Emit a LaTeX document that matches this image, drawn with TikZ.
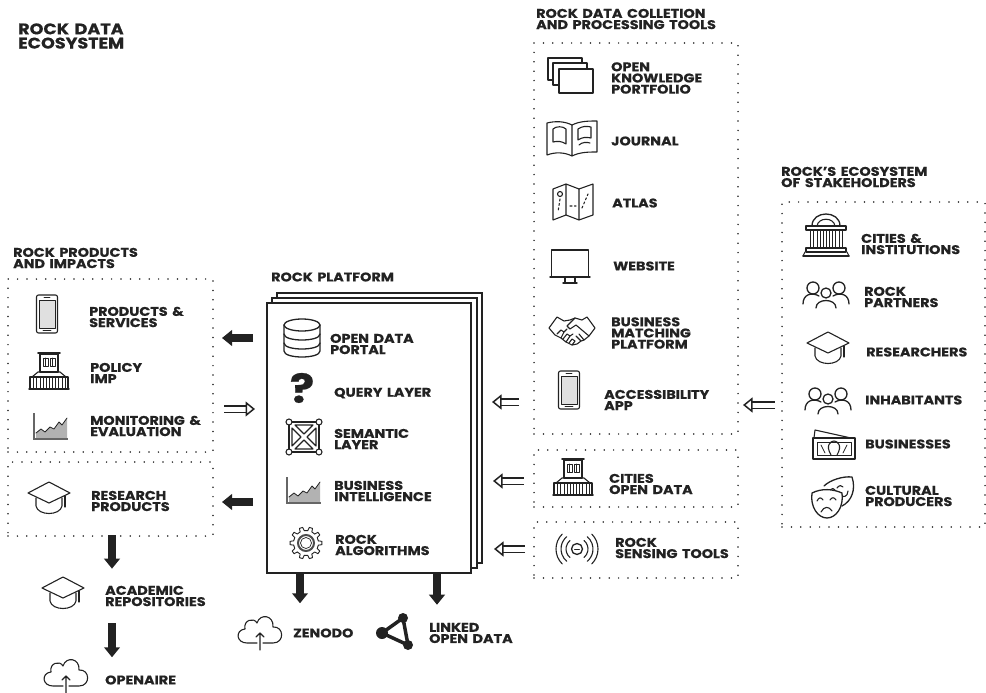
\documentclass[tikz,border=0pt]{standalone}
\usepackage{fontspec}
\setmainfont{Poppins}[FakeStretch=1.14,WordSpace=1.5,BoldFeatures={FakeBold=0.6}]
\usetikzlibrary{arrows.meta,calc}
\definecolor{ink}{HTML}{222222}
\tikzset{
  x=1pt,y=-1pt,
  lab/.style={anchor=west,align=left,inner sep=0pt,text=ink,font=\fontsize{12.6}{11.2}\selectfont\bfseries},
  bigtitle/.style={lab,font=\fontsize{15.4}{14.2}\selectfont\bfseries},
  dotbox/.style={draw=ink,line width=1.7pt,line cap=round,dash pattern=on 0pt off 9.4pt,inner sep=0pt,outer sep=0pt,rectangle},
  sheet/.style={draw=ink,line width=1.9pt,fill=white,inner sep=0pt,outer sep=0pt,rectangle},
  solidarrow/.style={draw=ink,line width=7.5pt,-{Triangle[length=10pt,width=15.5pt,fill=ink]}},
  hollowarrow/.style={draw=ink,line width=1.5pt,double=white,double distance=5pt,-{Triangle[open,length=9.5pt,width=15pt,fill=white]}},
  ic/.style={draw=ink,line width=1.1pt,line join=round,line cap=round},
  phone/.pic={
    \draw[ic,rounded corners=2pt] (-10.5,-19) rectangle (10.5,19);
    \draw[ic,fill=black!12,line width=.8pt] (-8,-14) rectangle (8,14);
    \draw[ic,line width=.8pt] (-3,-16.5)--(3,-16.5) (-4,16.5)--(4,16.5);
  },
  bank/.pic={
    \draw[ic] (-9,-17) rectangle (9,1);
    \draw[ic,line width=1.8pt] (-11,-18)--(11,-18);
    \draw[ic,line width=.8pt] (-6,-13) rectangle (-1,-5) (1,-13) rectangle (6,-5) (-3.5,-13)--(-3.5,-5) (3.5,-13)--(3.5,-5);
    \draw[ic] (-17,6)--(-11,1)--(11,1)--(17,6)--cycle;
    \draw[ic,line width=1.5pt] (-20,18)--(20,18);
    \draw[ic] (-19,6) rectangle (19,18);
    \foreach \q in {-16,-13,-9,-6,-3,0,3,6,9,13,16} \draw[ic,line width=1pt] (\q,6)--(\q,18);
  },
  trend/.pic={
    \fill[black!30] (-15,12)--(-15,7)--(-10,3)--(-6,6)--(-1,1)--(3,3)--(8,-4)--(11,-1)--(16,-8)--(16,12)--cycle;
    \draw[ic,line width=.8pt] (-15,7)--(-10,3)--(-6,6)--(-1,1)--(3,3)--(8,-4)--(11,-1)--(16,-8);
    \draw[draw=black!60,line width=1.1pt] (-17,-13)--(-17,13)--(17,13);
  },
  gradcap/.pic={
    \draw[ic] (0,-16)--(21,-5)--(0,5)--(-21,-5)--cycle;
    \draw[ic] (-13,0)--(-13,8) .. controls (-11,18) and (11,18) .. (13,8)--(13,0);
    \draw[ic] (16,-2)--(16,9);
  },
  cloud/.pic={
    \draw[ic] (-3,13)--(-13,13) .. controls (-24,13) and (-25,0) .. (-15,-1) .. controls (-17,-10) and (-6,-13) .. (-3,-7) .. controls (0,-17) and (14,-15) .. (13,-3) .. controls (24,-4) and (25,13) .. (13,13)--(3,13);
    \draw[ic] (0,20)--(0,3) (-4,7)--(0,3)--(4,7);
  },
  dbase/.pic={
    \draw[ic,line width=1.3pt] (0,-13) ellipse (18 and 6);
    \draw[ic,line width=1.3pt] (-18,-13)--(-18,13) .. controls (-18,21) and (18,21) .. (18,13)--(18,-13);
    \draw[ic,line width=1.3pt] (-18,-4) .. controls (-18,4) and (18,4) .. (18,-4);
    \draw[ic,line width=1.3pt] (-18,5) .. controls (-18,13) and (18,13) .. (18,5);
  },
  semantic/.pic={
    \draw[ic,line width=1.4pt] (-15,-15) rectangle (15,15);
    \draw[ic] (-9,-12)--(9,-12)--(0,-3)--cycle (-9,12)--(9,12)--(0,3)--cycle (-12,-9)--(-12,9)--(-3,0)--cycle (12,-9)--(12,9)--(3,0)--cycle;
    \foreach \a/\b in {-15/-15,15/-15,-15/15,15/15} \draw[ic,fill=white] (\a,\b) circle (3);
  },
  gear/.pic={
    \foreach \a in {0,36,...,324} \draw[ic,line width=.9pt] ({\a-10}:12.5)--({\a-6}:16)--({\a+6}:16)--({\a+10}:12.5)--({\a+26}:12.5);
    \draw[draw=black!70,line width=2pt] (0,0) circle (8);
    \draw[ic,line width=.7pt] (0,0) circle (5.5);
  },
  docs/.pic={
    \draw[ic,fill=white] (-22,-18) rectangle (12,4);
    \draw[ic,fill=white] (-17,-13) rectangle (17,9);
    \draw[ic,fill=white] (-11,-7) rectangle (23,17);
  },
  book/.pic={
    \draw[ic] (0,-13) .. controls (-8,-17) and (-17,-17) .. (-25,-15)--(-25,17) .. controls (-17,14) and (-8,14) .. (0,18) .. controls (8,14) and (17,14) .. (25,14)--(25,-17) .. controls (17,-17) and (8,-17) .. (0,-13)--(0,18);
    \draw[ic] (-19,4)--(-19,-9) .. controls (-16,-12) and (-9,-12) .. (-6,-9)--(-6,6) .. controls (-10,3) and (-15,3) .. (-19,4);
    \draw[ic] (6,-9) .. controls (10,-12) and (15,-12) .. (19,-11)--(19,0) .. controls (15,-1) and (10,-1) .. (6,2)--cycle;
    \draw[ic] (7,7) .. controls (10,4) and (15,4) .. (18,5);
  },
  atlasmap/.pic={
    \draw[ic] (-20,-13)--(-7,-18)--(6,-13)--(20,-18)--(20,13)--(6,18)--(-7,13)--(-20,18)--cycle (-7,-18)--(-7,13) (6,-13)--(6,18);
    \draw[ic] (-13,-8) circle (2.5);
    \draw[ic,dash pattern=on 2pt off 2.5pt] (-13,-3)--(-15,10) (-3,4)--(3,4) (9,6)--(15,-8);
  },
  monitor/.pic={
    \draw[ic] (-18.5,-17) rectangle (18.5,10);
    \draw[ic,line width=1.4pt] (-20,10)--(20,10);
    \draw[ic] (-5,10)--(-5,15) (5,10)--(5,15);
    \draw[ic,line width=1.4pt] (-7,16)--(7,16);
  },
  handshake/.pic={
    \draw[ic] (-23,-3)--(-15,-14)--(-8,-10)--(-2,-11)--(3,-13)--(10,-11)--(15,-14)--(23,-3)--(17,5)--(12,9)--(9,10)--(5,13)--(0,14)--(-6,11)--(-11,7)--(-17,4)--cycle;
    \draw[ic] (3,-13)--(-5,-5)--(-2,-2)--(4,-6)--(17,5);
    \draw[ic] (-15,3)--(-11,-1)--(-8,1)--(-11,7) (-8,1)--(-5,-2) (-9,8)--(-5,3)--(-2,5)--(-6,11) (-2,5)--(1,3) (-3,12)--(0,8)--(3,10)--(0,14);
    \draw[ic] (9,10)--(4,5) (12,9)--(7,3);
  },
  sensor/.pic={
    \draw[ic,line width=1.3pt] (0,0) circle (5.5);
    \draw[ic,line width=.8pt] (-2.5,0)--(2.5,0);
    \foreach \r/\w in {11/50,16/50,21/45} {
      \draw[ic] (-\w:\r) arc[start angle=-\w,end angle=\w,radius=\r];
      \draw[ic] ({180-\w}:\r) arc[start angle=180-\w,end angle=180+\w,radius=\r];
    }
  },
  temple/.pic={
    \draw[ic,line width=1.3pt] (-14,-10) .. controls (-14,-26) and (14,-26) .. (14,-10);
    \draw[ic] (-9,-10) .. controls (-8,-19) and (8,-19) .. (9,-10);
    \draw[ic] (-20,-10) rectangle (20,-6);
    \foreach \q in {-16,-13,-9,-6,-3,0,3,6,9,13,16} \draw[ic,line width=.9pt] (\q,-6)--(\q,12);
    \draw[ic] (-20,12) rectangle (20,16);
    \draw[ic,line width=1.5pt] (-23,20)--(23,20);
    \draw[ic] (-21,16)--(-23,20) (21,16)--(23,20);
  },
  people/.pic={
    \draw[ic,line width=1.3pt] (-13,-7) circle (6);
    \draw[ic,line width=1.3pt] (13,-7) circle (6);
    \draw[ic,line width=1.3pt] (0,-2) circle (5);
    \draw[ic,line width=1.3pt] (-23,9) .. controls (-23,-1) and (-14,-3) .. (-7,1);
    \draw[ic,line width=1.3pt] (23,9) .. controls (23,-1) and (14,-3) .. (7,1);
    \draw[ic,line width=1.3pt] (-10,13) .. controls (-10,3) and (10,3) .. (10,13);
  },
  banknote/.pic={
    \draw[ic] (-19,-15)--(17,-7) (-19,-15)--(-20,-7);
    \draw[ic,line width=1.4pt] (-21,-7) rectangle (21,14);
    \draw[ic,line width=.8pt] (-17,-3) rectangle (17,10);
    \draw[ic] (-3,10) .. controls (-9,0) and (-3,-4) .. (0,-4) .. controls (3,-4) and (9,0) .. (3,10);
    \draw[ic,line width=.8pt] (-13,0)--(-9,8) (13,0)--(9,8);
  },
  masks/.pic={
    \draw[ic,line width=1.3pt] (-9,-11) .. controls (-3,-17) and (10,-21) .. (19,-20) .. controls (23,-8) and (19,4) .. (9,9);
    \draw[ic] (4,-9) .. controls (6,-12) and (9,-12) .. (10,-10) (-3,-7) .. controls (-1,-9) and (1,-9) .. (2,-7);
    \draw[ic] (9,-2) .. controls (9,1) and (15,0) .. (15,-6);
    \draw[ic,line width=1.3pt,fill=white] (-21,-4) .. controls (-11,-9) and (0,-8) .. (9,-4) .. controls (11,10) and (3,21) .. (-6,21) .. controls (-15,21) and (-23,10) .. (-21,-4)--cycle;
    \draw[ic] (-16,4) .. controls (-14,0) and (-12,0) .. (-10,3) (-3,3) .. controls (-1,0) and (1,0) .. (3,3);
    \draw[ic] (-12,15) .. controls (-9,9) and (-4,9) .. (-1,14);
  },
  network/.pic={
    \draw[draw=ink,line width=3.5pt] (21,-15)--(0,0)--(26,12)--cycle;
    \fill[ink] (0,0) circle (6) (21,-15) circle (5) (26,12) circle (5);
  }
}
\begin{document}
\begin{tikzpicture}
\useasboundingbox (0,0) rectangle (986,693);
% back sheets and frames
\node[sheet,minimum width=205pt,minimum height=270pt] (sheetc) at (379.5,428) {};
\node[sheet,minimum width=205pt,minimum height=270pt] (sheetb) at (374.5,433) {};
\node[sheet,minimum width=204pt,minimum height=270pt] (platform) at (369,438) {};
\node[dotbox,minimum width=205pt,minimum height=173pt] (products) at (110.5,365.5) {};
\node[dotbox,minimum width=205pt,minimum height=74pt] (research) at (110.5,499) {};
\node[dotbox,minimum width=204pt,minimum height=391pt] (tools) at (636,238.5) {};
\node[dotbox,minimum width=204pt,minimum height=57pt] (citiesbox) at (636,478.5) {};
\node[dotbox,minimum width=204pt,minimum height=56pt] (sensing) at (636,550) {};
\node[dotbox,minimum width=203pt,minimum height=325pt] (stake) at (883.5,364.5) {};
% headings
\node[bigtitle] (tEco) at (18,36) {ROCK DATA\\ECOSYSTEM};
\node[lab] (tProd) at (13,258) {ROCK PRODUCTS\\AND IMPACTS};
\node[lab] (tPlat) at (271,277) {ROCK PLATFORM};
\node[lab] (tTools) at (536,19) {ROCK DATA COLLETION\\AND PROCESSING TOOLS};
\node[lab] (tStake) at (781,177) {ROCK'S ECOSYSTEM\\OF STAKEHOLDERS};
% left column
\pic (iPhone) at (47,314) {phone};
\node[lab] (lProd) at (89,317) {PRODUCTS \&\\SERVICES};
\pic (iPolicy) at (49,371) {bank};
\node[lab] (lPolicy) at (90,373) {POLICY\\IMP};
\pic (iMon) at (51,426) {trend};
\node[lab] (lMon) at (90,426) {MONITORING \&\\EVALUATION};
\pic (iRes) at (49,498) {gradcap};
\node[lab] (lRes) at (91,501) {RESEARCH\\PRODUCTS};
\pic (iAcad) at (63,593) {gradcap};
\node[lab] (lAcad) at (105,596) {ACADEMIC\\REPOSITORIES};
\pic (iOA) at (66,673) {cloud};
\node[lab] (lOA) at (105,680) {OPENAIRE};
% platform
\pic (iDb) at (302,338) {dbase};
\node[lab] (lDb) at (330,344) {OPEN DATA\\PORTAL};
\node[anchor=center,inner sep=0pt,text=ink,font=\fontsize{40}{40}\selectfont\bfseries] (iQ) at (302,388) {?};
\node[lab] (lQ) at (334,393) {QUERY LAYER};
\pic (iSem) at (304,437) {semantic};
\node[lab] (lSem) at (334,439) {SEMANTIC\\LAYER};
\pic (iBI) at (304,490) {trend};
\node[lab] (lBI) at (334,491) {BUSINESS\\INTELLIGENCE};
\pic (iGear) at (306,543) {gear};
\node[lab] (lAlg) at (335,545) {ROCK\\ALGORITHMS};
% below platform
\pic (iZen) at (260,630) {cloud};
\node[lab] (lZen) at (293,633) {ZENODO};
\pic (iNet) at (382,633) {network};
\node[lab] (lLod) at (429,633) {LINKED\\OPEN DATA};
% tools
\pic (iDocs) at (570,76) {docs};
\node[lab] (lOkp) at (611,78) {OPEN\\KNOWLEDGE\\PORTFOLIO};
\pic (iBook) at (572,138) {book};
\node[lab] (lJour) at (611,141) {JOURNAL};
\pic (iMap) at (573,202) {atlasmap};
\node[lab] (lAtlas) at (612,203) {ATLAS};
\pic (iMonitor) at (570,267) {monitor};
\node[lab] (lWeb) at (613,266) {WEBSITE};
\pic (iHand) at (572,331) {handshake};
\node[lab] (lBmp) at (611,333) {BUSINESS\\MATCHING\\PLATFORM};
\pic (iApp) at (569,390) {phone};
\node[lab] (lApp) at (604,400) {ACCESSIBILITY\\APP};
\pic (iCity) at (573,477) {bank};
\node[lab] (lCity) at (609,484) {CITIES\\OPEN DATA};
\pic (iSens) at (577,549) {sensor};
\node[lab] (lSens) at (615,548) {ROCK\\SENSING TOOLS};
% stakeholders
\pic (iTemple) at (826,236) {temple};
\node[lab] (lInst) at (861,244) {CITIES \&\\INSTITUTIONS};
\pic (iPart) at (826,295) {people};
\node[lab] (lPart) at (864,297) {ROCK\\PARTNERS};
\pic (iResr) at (828,348) {gradcap};
\node[lab] (lResr) at (866,352) {RESEARCHERS};
\pic (iInh) at (828,401) {people};
\node[lab] (lInh) at (865,400) {INHABITANTS};
\pic (iBus) at (834,445) {banknote};
\node[lab] (lBus) at (865,444) {BUSINESSES};
\pic (iMask) at (833,497) {masks};
\node[lab] (lCult) at (865,496) {CULTURAL\\PRODUCERS};
% connectors
\draw[solidarrow,shorten <=14pt,shorten >=9pt] (platform.west |- 0,338) -- (products.east |- 0,338);
\draw[hollowarrow,shorten <=11pt,shorten >=12pt] (products.east |- 0,409) -- (platform.west |- 0,409);
\draw[solidarrow,shorten <=14pt,shorten >=9pt] (platform.west |- 0,502) -- (research.east |- 0,502);
\draw[hollowarrow,shorten <=15pt,shorten >=10pt] (tools.west |- 0,402) -- (sheetc.east |- 0,402);
\draw[hollowarrow,shorten <=10pt,shorten >=11pt] (citiesbox.west |- 0,481) -- (sheetc.east |- 0,481);
\draw[hollowarrow,shorten <=9pt,shorten >=12pt] (sensing.west |- 0,549) -- (sheetc.east |- 0,549);
\draw[hollowarrow,shorten <=7pt,shorten >=5pt] (stake.west |- 0,405) -- (tools.east |- 0,405);
\draw[solidarrow,shorten >=25pt] (platform.south -| 300,0) -- (lZen.north -| 300,0);
\draw[solidarrow,shorten >=18pt] (platform.south -| 437,0) -- (lLod.north -| 437,0);
\draw[solidarrow,shorten <=-1pt,shorten >=17pt] (research.south -| 112,0) -- (lAcad.north -| 112,0);
\draw[solidarrow,shorten <=17pt,shorten >=18pt] (lAcad.south -| 112,0) -- (lOA.north -| 112,0);
\end{tikzpicture}
\end{document}
